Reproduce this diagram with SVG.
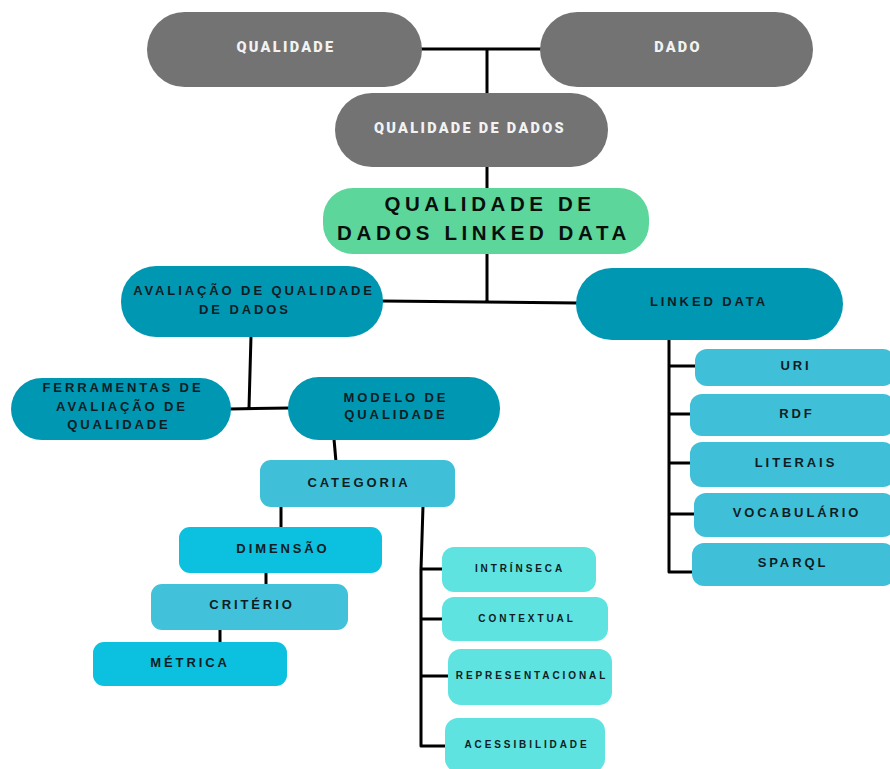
<svg xmlns="http://www.w3.org/2000/svg" width="890" height="769" viewBox="0 0 890 769">
  <style>
    .gray { fill: #737373; }
    .green { fill: #5cd69a; }
    .teal { fill: #0097b2; }
    .cyan { fill: #3fc0d8; }
    .bright { fill: #0cc0df; }
    .light { fill: #5ee3e0; }
    .wt { font-family: Roboto, "Liberation Sans", sans-serif; font-weight: 900; font-size: 14.5px; fill: #f2f2f2; letter-spacing: 2.3px; text-anchor: middle; }
    .dt { font-family: "Liberation Sans", Arial, sans-serif; font-weight: bold; font-size: 13px; fill: #0f1c24; letter-spacing: 2.9px; text-anchor: middle; }
    .st { font-family: "Liberation Sans", Arial, sans-serif; font-weight: bold; font-size: 10px; fill: #0f1c24; letter-spacing: 2.9px; text-anchor: middle; }
    .tt { font-family: "Liberation Sans", Arial, sans-serif; font-weight: bold; font-size: 20.5px; fill: #0a0f0c; letter-spacing: 4.6px; text-anchor: middle; }
    .ln { fill: none; stroke: #000; stroke-width: 3; stroke-linejoin: round; }
  </style>

  <!-- connectors -->
  <g id="connectors" class="ln">
    <path d="M420 49 H542 M487 49 V96"/>
    <path d="M487 165 V190"/>
    <path d="M487 252 V301 M381 301 L578 303"/>
    <path d="M251 336 L249 408 M229 409 L290 408"/>
    <path d="M334 439 L336 462"/>
    <path d="M281 505 V529"/>
    <path d="M266 572 V586"/>
    <path d="M220 629 V644"/>
    <path d="M423 506 L421 570 V746 H447 M421 569 H443 M421 619 H443 M421 676 H450"/>
    <path d="M669 339 V572 H693 M669 366 H696 M669 414 H691 M669 463 H691 M669 514 H695"/>
  </g>

  <!-- top level -->
  <g id="n-qualidade">
    <rect class="gray" x="147" y="12" width="275" height="75" rx="37.5"/>
    <text class="wt" x="286" y="52">QUALIDADE</text>
  </g>
  <g id="n-dado">
    <rect class="gray" x="540" y="12" width="273" height="75" rx="37.5"/>
    <text class="wt" x="678" y="52">DADO</text>
  </g>
  <g id="n-qualidade-dados">
    <rect class="gray" x="335" y="93" width="273" height="74" rx="37"/>
    <text class="wt" x="470" y="133">QUALIDADE DE DADOS</text>
  </g>
  <g id="n-qdld">
    <rect class="green" x="323" y="188" width="326" height="66" rx="30"/>
    <text class="tt" x="490" y="211">QUALIDADE DE</text>
    <text class="tt" x="484" y="240">DADOS LINKED DATA</text>
  </g>

  <!-- second level -->
  <g id="n-avaliacao">
    <rect class="teal" x="121" y="266" width="262" height="71" rx="35"/>
    <text class="dt" x="254" y="295">AVALIAÇÃO DE QUALIDADE</text>
    <text class="dt" x="245" y="314">DE DADOS</text>
  </g>
  <g id="n-linked-data">
    <rect class="teal" x="576" y="268" width="267" height="72" rx="36"/>
    <text class="dt" x="709" y="306">LINKED DATA</text>
  </g>

  <!-- evaluation branch -->
  <g id="n-ferramentas">
    <rect class="teal" x="11" y="378" width="220" height="62" rx="31"/>
    <text class="dt" x="123" y="392">FERRAMENTAS DE</text>
    <text class="dt" x="122" y="411">AVALIAÇÃO DE</text>
    <text class="dt" x="119" y="429">QUALIDADE</text>
  </g>
  <g id="n-modelo">
    <rect class="teal" x="288" y="377" width="212" height="63" rx="31"/>
    <text class="dt" x="396" y="402">MODELO DE</text>
    <text class="dt" x="396" y="419">QUALIDADE</text>
  </g>
  <g id="n-categoria">
    <rect class="cyan" x="260" y="460" width="195" height="47" rx="11"/>
    <text class="dt" x="359" y="487">CATEGORIA</text>
  </g>
  <g id="n-dimensao">
    <rect class="bright" x="179" y="527" width="203" height="46" rx="11"/>
    <text class="dt" x="283" y="553">DIMENSÃO</text>
  </g>
  <g id="n-criterio">
    <rect style="fill:#42c2da" x="151" y="584" width="197" height="46" rx="11"/>
    <text class="dt" x="252" y="609">CRITÉRIO</text>
  </g>
  <g id="n-metrica">
    <rect class="bright" x="93" y="642" width="194" height="44" rx="11"/>
    <text class="dt" x="190" y="667">MÉTRICA</text>
  </g>

  <!-- category types -->
  <g id="n-intrinseca">
    <rect class="light" x="442" y="547" width="154" height="45" rx="12"/>
    <text class="st" x="520" y="572">INTRÍNSECA</text>
  </g>
  <g id="n-contextual">
    <rect class="light" x="442" y="597" width="166" height="44" rx="12"/>
    <text class="st" x="527" y="622">CONTEXTUAL</text>
  </g>
  <g id="n-representacional">
    <rect class="light" x="448" y="649" width="164" height="56" rx="13"/>
    <text class="st" x="532" y="679">REPRESENTACIONAL</text>
  </g>
  <g id="n-acessibilidade">
    <rect class="light" x="445" y="718" width="160" height="54" rx="13"/>
    <text class="st" x="527" y="748">ACESSIBILIDADE</text>
  </g>

  <!-- linked data components -->
  <g id="n-uri">
    <rect class="cyan" x="695" y="349" width="200" height="37" rx="12"/>
    <text class="dt" x="796" y="370">URI</text>
  </g>
  <g id="n-rdf">
    <rect class="cyan" x="690" y="394" width="205" height="42" rx="12"/>
    <text class="dt" x="797" y="418">RDF</text>
  </g>
  <g id="n-literais">
    <rect class="cyan" x="690" y="442" width="205" height="45" rx="12"/>
    <text class="dt" x="796" y="467">LITERAIS</text>
  </g>
  <g id="n-vocabulario">
    <rect class="cyan" x="694" y="493" width="201" height="44" rx="12"/>
    <text class="dt" x="797" y="517">VOCABULÁRIO</text>
  </g>
  <g id="n-sparql">
    <rect class="cyan" x="692" y="543" width="203" height="43" rx="12"/>
    <text class="dt" x="793" y="567">SPARQL</text>
  </g>
</svg>
